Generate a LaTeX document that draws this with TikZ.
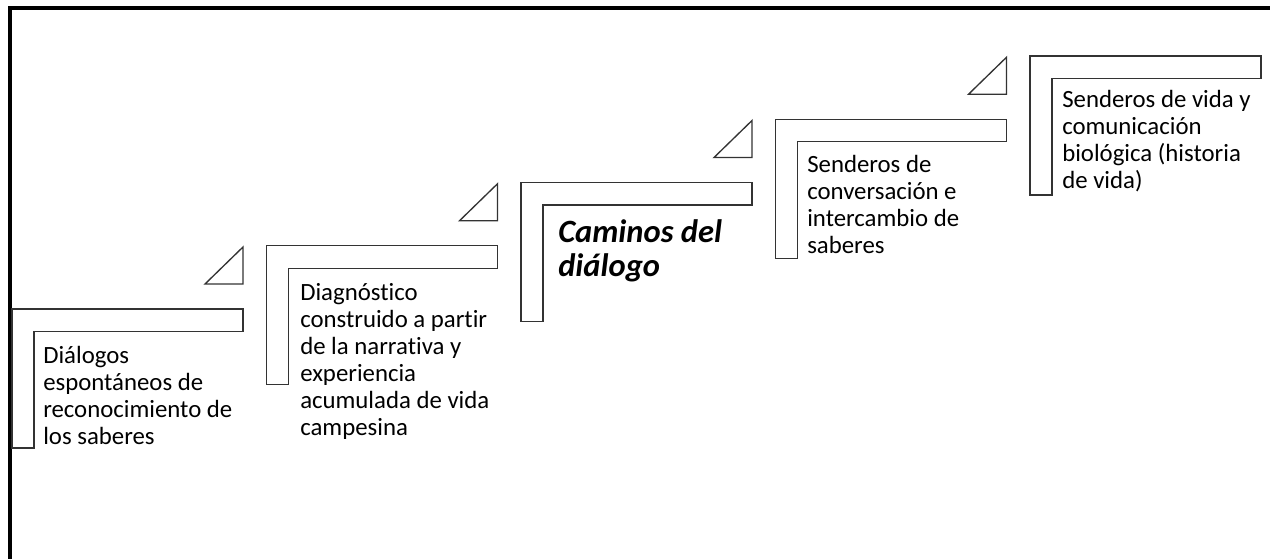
\documentclass[tikz,border=0pt]{standalone}
\usepackage{fontspec}
\setmainfont[Ligatures={NoCommon}]{Carlito}
\begin{document}
\begin{tikzpicture}[x=0.75pt,y=-0.75pt,
  stepshape/.style={draw=black!80, line width=1pt, line join=miter},
  wedge/.style={draw=black!80, line width=1pt, line join=miter},
  steptext/.style={anchor=base west, inner sep=0pt, font=\fontsize{18.6}{20.25}\selectfont},
  titletext/.style={anchor=base west, inner sep=0pt, font=\fontsize{24.4}{25.5}\selectfont\bfseries\itshape},
  frame/.style={draw=black, line width=2.4pt}]
\useasboundingbox (0,0) rectangle (1270,558);
\draw[frame] (10,562) -- (10,8) -- (1274,8);
% step shapes
\foreach \k in {0,...,4}{
  \pgfmathsetmacro{\L}{12+254.5*\k}
  \pgfmathsetmacro{\T}{309-63.25*\k}
  \pgfmathsetmacro{\R}{\L+231}
  \pgfmathsetmacro{\I}{\L+22}
  \pgfmathsetmacro{\M}{\T+22.5}
  \pgfmathsetmacro{\B}{\T+139}
  \draw[stepshape] (\L,\T) -- (\R,\T) -- (\R,\M) -- (\I,\M) -- (\I,\B) -- (\L,\B) -- cycle;
}
\foreach \k in {0,...,3}{
  \pgfmathsetmacro{\R}{243+254.5*\k}
  \pgfmathsetmacro{\T}{309-63.25*\k}
  \draw[wedge] (\R,\T-62) -- (\R,\T-25) -- (\R-38,\T-25) -- cycle;
}
\node[steptext] (t1) at (43,363) {\begin{tabular}[t]{@{}l@{}}Diálogos\\espontáneos de\\reconocimiento de\\los saberes\end{tabular}};
\node[steptext] (t2) at (300,300) {\begin{tabular}[t]{@{}l@{}}Diagnóstico\\construido a partir\\de la narrativa y\\experiencia\\acumulada de vida\\campesina\end{tabular}};
\node[titletext] (t3) at (558,242) {\begin{tabular}[t]{@{}l@{}}Caminos del\\diálogo\end{tabular}};
\node[steptext] (t4) at (807,172) {\begin{tabular}[t]{@{}l@{}}Senderos de\\conversación e\\intercambio de\\saberes\end{tabular}};
\node[steptext] (t5) at (1062,107) {\begin{tabular}[t]{@{}l@{}}Senderos de vida y\\comunicación\\biológica (historia\\de vida)\end{tabular}};
\end{tikzpicture}
\end{document}
